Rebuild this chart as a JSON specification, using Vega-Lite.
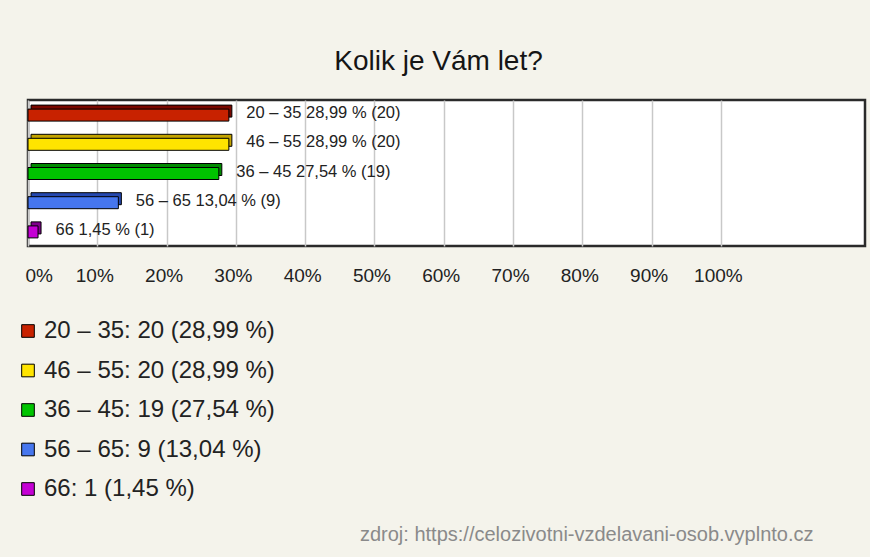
{
  "$schema": "https://vega.github.io/schema/vega-lite/v6.json",
  "width": 837,
  "height": 146,
  "autosize": {"type": "none"},
  "padding": {"left": 28, "top": 100, "right": 5, "bottom": 311},
  "background": "#f4f3eb",
  "title": {
    "text": "Kolik je Vám let?",
    "font": "Liberation Sans",
    "fontSize": 28,
    "fontWeight": "normal",
    "color": "#151515",
    "anchor": "middle",
    "dx": -8,
    "offset": 24
  },
  "config": {
    "view": {"fill": "#ffffff", "stroke": "#2a2a2a", "strokeWidth": 2.5},
    "font": "Liberation Sans"
  },
  "data": {
    "values": [
      {"group": "20 – 35", "count": 20, "pct": 28.99, "label": "20 – 35 28,99 % (20)", "legend": "20 – 35: 20 (28,99 %)"},
      {"group": "46 – 55", "count": 20, "pct": 28.99, "label": "46 – 55 28,99 % (20)", "legend": "46 – 55: 20 (28,99 %)"},
      {"group": "36 – 45", "count": 19, "pct": 27.54, "label": "36 – 45 27,54 % (19)", "legend": "36 – 45: 19 (27,54 %)"},
      {"group": "56 – 65", "count": 9, "pct": 13.04, "label": "56 – 65 13,04 % (9)", "legend": "56 – 65: 9 (13,04 %)"},
      {"group": "66", "count": 1, "pct": 1.45, "label": "66 1,45 % (1)", "legend": "66: 1 (1,45 %)"}
    ]
  },
  "encoding": {
    "y": {
      "field": "group",
      "type": "nominal",
      "sort": null,
      "axis": null,
      "scale": {"paddingInner": 0, "paddingOuter": 0}
    },
    "x": {
      "field": "pct",
      "type": "quantitative",
      "scale": {"domain": [0, 120.8], "nice": false, "zero": true},
      "axis": {
        "values": [0, 10, 20, 30, 40, 50, 60, 70, 80, 90, 100],
        "labelExpr": "datum.value + '%'",
        "grid": true,
        "gridColor": "#c8c8c8",
        "gridWidth": 1.5,
        "domain": false,
        "ticks": false,
        "labelFlush": true,
        "labelOffset": -3,
        "labelPadding": 29,
        "labelBaseline": "middle",
        "labelFont": "Liberation Sans",
        "labelFontSize": 19,
        "labelColor": "#222222",
        "title": "zdroj: https://celozivotni-vzdelavani-osob.vyplnto.cz",
        "titleFont": "Liberation Sans",
        "titleFontSize": 20,
        "titleFontWeight": "normal",
        "titleColor": "#8a8a8a",
        "titleAlign": "right",
        "titleBaseline": "middle",
        "titleX": 785,
        "titleY": 288
      }
    }
  },
  "layer": [
    {
      "mark": {"type": "bar", "size": 12, "xOffset": 3, "x2Offset": 3, "yOffset": -3.5, "y2Offset": -3.5, "stroke": "#000000", "strokeWidth": 1},
      "encoding": {
        "fill": {
          "field": "group",
          "type": "nominal",
          "sort": null,
          "scale": {"range": ["#7a0800", "#c4a400", "#008a00", "#2448b0", "#80008c"]},
          "legend": null
        }
      }
    },
    {
      "mark": {"type": "bar", "size": 12, "yOffset": 0.5, "y2Offset": 0.5, "stroke": "#000000", "strokeWidth": 1},
      "encoding": {
        "color": {
          "field": "legend",
          "type": "nominal",
          "sort": null,
          "scale": {"range": ["#c82200", "#ffe400", "#00c400", "#4676ee", "#c400d4"]},
          "legend": {
            "title": null,
            "orient": "none",
            "legendX": -12,
            "legendY": 219,
            "padding": 0,
            "symbolType": "square",
            "symbolSize": 160,
            "symbolStrokeColor": "#000000",
            "symbolStrokeWidth": 1,
            "symbolOpacity": 1,
            "labelFont": "Liberation Sans",
            "labelFontSize": 24,
            "labelColor": "#222222",
            "labelOffset": 4,
            "rowPadding": 15.5,
            "labelLimit": 600
          }
        }
      }
    },
    {
      "mark": {"type": "text", "align": "left", "baseline": "middle", "dx": 17.5, "dy": -1.5, "font": "Liberation Sans", "fontSize": 16.5, "color": "#222222"},
      "encoding": {
        "text": {"field": "label", "type": "nominal"}
      }
    }
  ]
}
